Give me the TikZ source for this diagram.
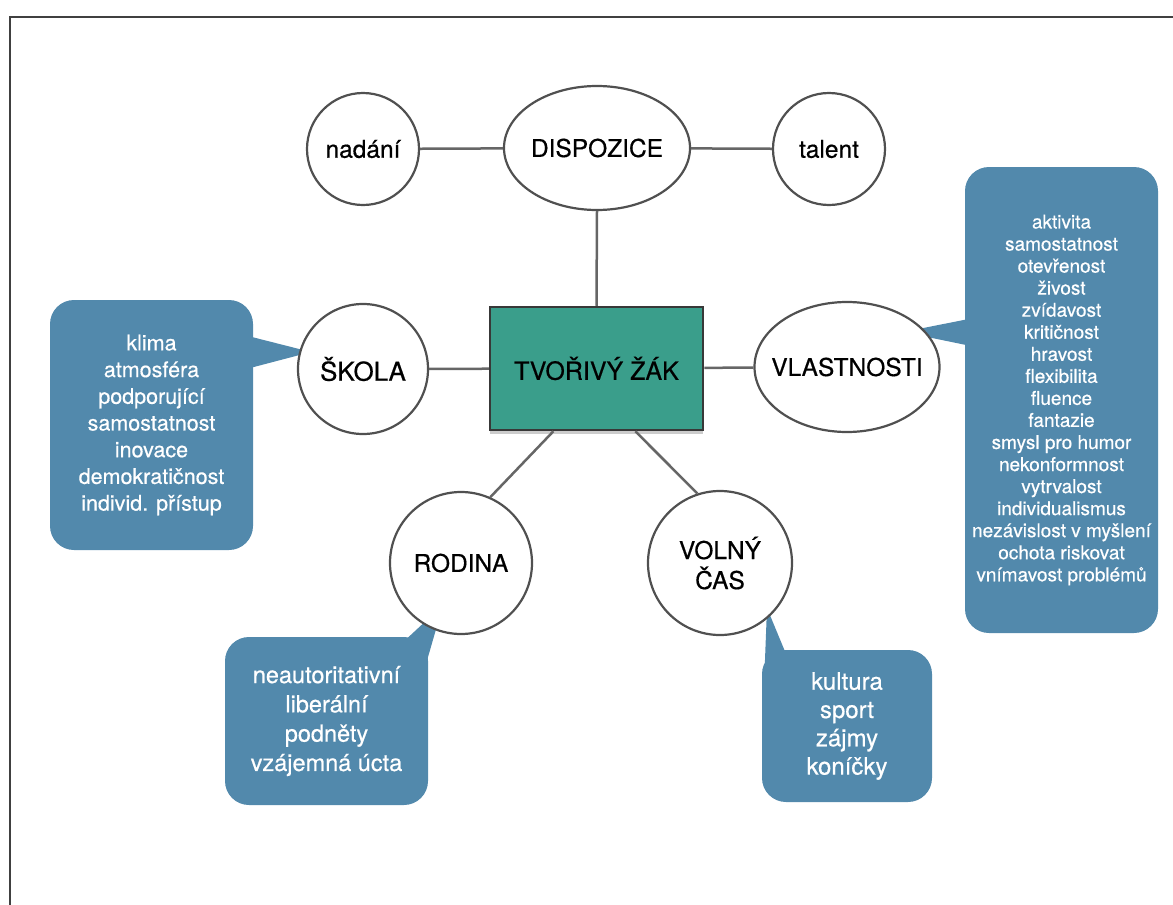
\documentclass[tikz,border=0pt]{standalone}
\usepackage{fontspec}
\setmainfont{TeX Gyre Heros}[FakeBold=0.5]
\usetikzlibrary{shapes.geometric,shadows,calc}
\definecolor{tealbox}{HTML}{3A9E8B}
\definecolor{callblue}{HTML}{5289AC}
\definecolor{ink}{HTML}{505050}
\definecolor{linkgray}{HTML}{666666}
\begin{document}
\begin{tikzpicture}[x=1pt,y=-1pt,
  bub/.style={circle,draw=ink,line width=2.2pt,fill=white,inner sep=0pt,font=\fontsize{24.5}{30}\selectfont},
  ell/.style={ellipse,draw=ink,line width=2.2pt,fill=white,inner xsep=-22pt,inner ysep=0pt,font=\fontsize{24.5}{30}\selectfont},
  link/.style={draw=linkgray,line width=2.5pt},
  callout/.style={fill=callblue,rounded corners=24pt,text=white,align=center,inner sep=0pt},
  ptr/.style={fill=callblue}]
\useasboundingbox (0,0) rectangle (1173,905);
\draw[line width=1.5pt,color=black!75] (10,905) -- (10,17) -- (1173,17);

% callout boxes
\node[callout,minimum width=203pt,minimum height=250pt,font=\fontsize{21.5}{26.7}\selectfont] (cs) at (151.5,425)
  {klima\\atmosféra\\podporující\\samostatnost\\inovace\\demokratičnost\\individ. přístup};
\node[callout,minimum width=193pt,minimum height=466pt,font=\fontsize{19}{22.05}\selectfont] (cv) at (1061.5,400)
  {aktivita\\samostatnost\\otevřenost\\živost\\zvídavost\\kritičnost\\hravost\\flexibilita\\fluence\\fantazie\\smysl pro humor\\nekonformnost\\vytrvalost\\individualismus\\nezávislost v myšlení\\ochota riskovat\\vnímavost problémů};
\node[callout,minimum width=203pt,minimum height=168pt,font=\fontsize{23.5}{29.3}\selectfont] (cr) at (326.5,721)
  {neautoritativní\\liberální\\podněty\\vzájemná úcta};
\node[callout,minimum width=170pt,minimum height=152pt,font=\fontsize{24}{28.3}\selectfont] (cc) at (847,726)
  {kultura\\sport\\zájmy\\koníčky};

% pointer tips
\coordinate (tipS) at (311,352);
\coordinate (tipV) at (903,332);
\coordinate (tipR) at (443,605);
\coordinate (tipC) at (767,608);
\fill[ptr] ($(cs.north east)+(-10,35)$) -- (tipS) -- ($(cs.north east)+(-10,70)$) -- cycle;
\fill[ptr] ($(cv.north west)+(10,151)$) -- (tipV) -- ($(cv.north west)+(10,180)$) -- cycle;
\fill[ptr] ($(cr.north east)+(-28,8)$) -- (tipR) -- ($(cr.north east)+(-3,30)$) -- cycle;
\fill[ptr] ($(cc.north west)+(3,15)$) -- (tipC) -- ($(cc.north west)+(25,6)$) -- cycle;

% main nodes
\node[bub,minimum size=112pt] (nad) at (363,149) {nadání};
\node[ell,minimum width=186pt,minimum height=124pt] (disp) at (597,148) {DISPOZICE};
\node[bub,minimum size=112pt] (tal) at (829,149) {talent};
\node[bub,minimum size=130pt,font=\fontsize{26}{30}\selectfont] (skola) at (363,369) {ŠKOLA};
\node[ell,minimum width=185pt,minimum height=130pt] (vl) at (847,367) {VLASTNOSTI};
\node[bub,minimum size=142pt] (rod) at (461,563) {RODINA};
\node[bub,minimum size=144pt,align=center] (vc) at (720,563) {VOLNÝ\\ČAS};
\node[rectangle,draw=black!78,line width=2.5pt,fill=tealbox,minimum width=213pt,minimum height=123pt,
  font=\fontsize{25}{30}\selectfont,
  drop shadow={shadow xshift=0pt,shadow yshift=-4pt,opacity=0.4}] (tv) at (596.5,368.5) {TVOŘIVÝ ŽÁK};

% connectors
\draw[link] (nad) -- (disp);
\draw[link] (disp) -- (tal);
\draw[link] (disp.south) -- (tv.north);
\draw[link] (skola) -- (tv);
\draw[link] (tv) -- (vl);
\draw[link] ($(tv.south west)!0.3!(tv.south east)$) -- (rod.66);
\draw[link] ($(tv.south west)!0.68!(tv.south east)$) -- (vc.108);
\end{tikzpicture}
\end{document}
